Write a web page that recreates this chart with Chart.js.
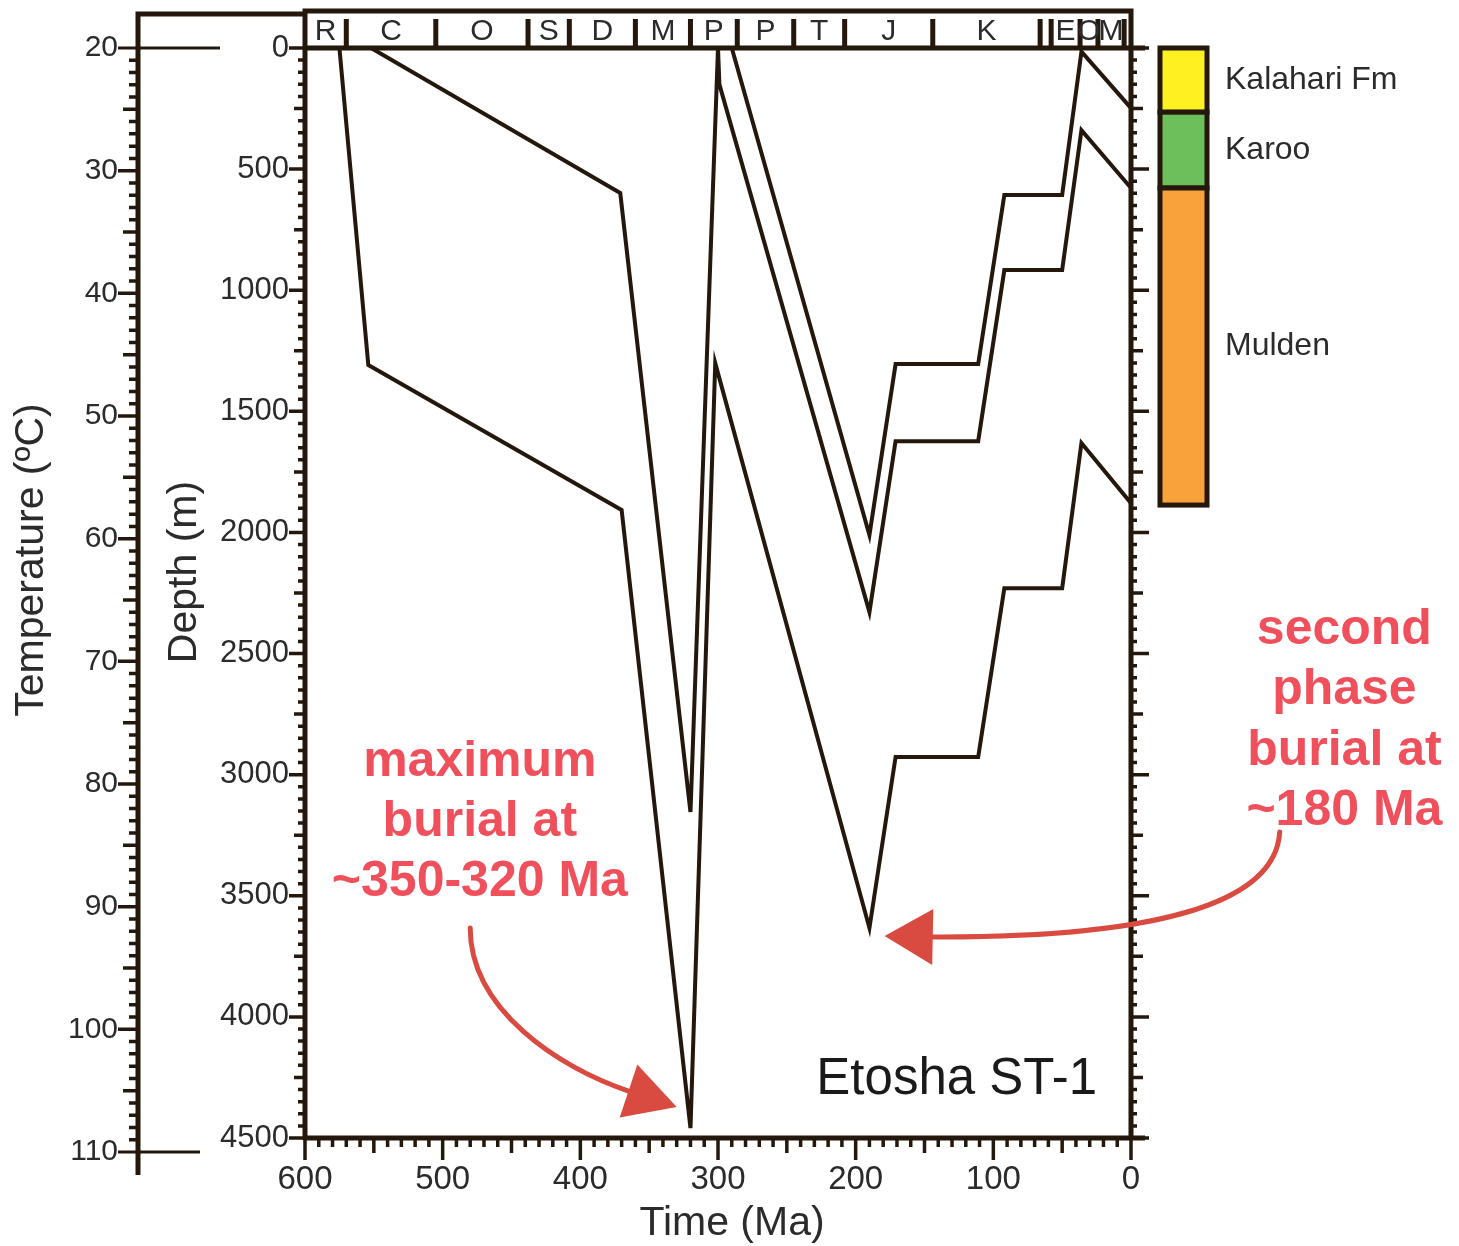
<!DOCTYPE html>
<html>
<head>
<meta charset="utf-8">
<title>Etosha ST-1 burial history</title>
<script src="https://cdn.jsdelivr.net/npm/chart.js@4.4.0/dist/chart.umd.min.js"></script>
<style>
  html, body { margin: 0; padding: 0; background: #fff; }
  #wrap { width: 1459px; height: 1246px; }
</style>
</head>
<body>
<div id="wrap"><canvas id="burialChart" width="1459" height="1246"></canvas></div>
<script>
// burial curves: age (Ma) and depth (m) of each horizon
var ageTop = [290, 190, 171, 111, 92, 50, 36, 0];
var depthTop = [0, 2011, 1305, 1305, 607, 607, 15, 248];

var ageMid = [552, 371, 320, 300, 299, 190, 171, 111, 92, 50, 36, 0];
var depthMid = [0, 599, 3154, 0, 150, 2329, 1623, 1623, 917, 917, 339, 578];

var ageBase = [575, 554, 370, 320, 302, 190, 171, 111, 92, 50, 36, 0];
var depthBase = [0, 1309, 1907, 4459, 1301, 3633, 2927, 2927, 2230, 2230, 1631, 1879];

// time scale strip along the top
var periodBounds = [600, 570, 505, 438, 408, 360, 320, 286, 245, 208, 144, 66, 58, 37, 24, 5, 0];
var periodLabels = ['R', 'C', 'O', 'S', 'D', 'M', 'P', 'P', 'T', 'J', 'K', '', 'E', 'O', 'M', ''];

// stratigraphic column on the right (present-day depths)
var unitNames = ['Kalahari Fm', 'Karoo', 'Mulden'];
var unitTop = [0, 265, 578];
var unitBase = [265, 578, 1887];
var unitColors = ['#fff022', '#6cbf5b', '#f9a23b'];

// axis ticks
var timeTicks = [600, 500, 400, 300, 200, 100, 0];
var depthTicks = [0, 500, 1000, 1500, 2000, 2500, 3000, 3500, 4000, 4500];
var tempTicks = [20, 30, 40, 50, 60, 70, 80, 90, 100, 110];

// annotations, anchored in (Ma, m)
var noteMaxLines = ['maximum', 'burial at', '~350-320 Ma'];
var noteMaxPos = [473, 2948];
var noteSecondLines = ['second', 'phase', 'burial at', '~180 Ma'];
var noteSecondPos = [-155, 2403];
var arrowMax = [[480, 3633], [480, 3972], [415, 4211], [365, 4306], [330, 4372]];
var arrowSecond = [[-108, 3237], [-105, 3538], [-14, 3674], [144, 3670], [179, 3666]];
var wellName = 'Etosha ST-1';
var wellPos = [24.7, 4261];

var AXIS = '#24170b';
var INK = '#2b2b2b';
var RED_TEXT = '#f0505c';
var RED_ARROW = '#d94a40';
var FONT = "'Liberation Sans', Arial, sans-serif";
var TEMP_OVERHANG = 14; // 110 ºC sits a little below the 4500 m line

function toPoints(ages, depths) {
    return ages.map(function(a, i) { return { x: a, y: depths[i] }; });
}

function curve(ages, depths) {
    return {
        data: toPoints(ages, depths),
        borderColor: AXIS,
        borderWidth: 4,
        pointRadius: 0,
        tension: 0,
        fill: false
    };
}

function drawArrow(ctx, xs, ys, pts, color) {
    var p = pts.map(function(q) { return { x: xs.getPixelForValue(q[0]), y: ys.getPixelForValue(q[1]) }; });
    ctx.strokeStyle = color;
    ctx.fillStyle = color;
    ctx.lineWidth = 5;
    ctx.lineCap = 'round';
    ctx.beginPath();
    ctx.moveTo(p[0].x, p[0].y);
    ctx.bezierCurveTo(p[1].x, p[1].y, p[2].x, p[2].y, p[3].x, p[3].y);
    ctx.stroke();
    // arrow head
    var dx = p[4].x - p[3].x, dy = p[4].y - p[3].y;
    var len = Math.sqrt(dx * dx + dy * dy);
    var nx = -dy / len, ny = dx / len, hw = 28;
    ctx.beginPath();
    ctx.moveTo(p[4].x, p[4].y);
    ctx.lineTo(p[3].x + nx * hw, p[3].y + ny * hw);
    ctx.lineTo(p[3].x - nx * hw, p[3].y - ny * hw);
    ctx.closePath();
    ctx.fill();
}

var framePlugin = {
    id: 'burialFrame',
    afterLayout: function(chart) {
        // stretch the temperature axis past the bottom of the plot frame
        var t = chart.scales.temp;
        t.bottom = t.bottom + TEMP_OVERHANG;
        t.configure();
    },
    afterDraw: function(chart) {
        var ctx = chart.ctx;
        var a = chart.chartArea;
        var xs = chart.scales.x, ys = chart.scales.y, ts = chart.scales.temp;
        var L = a.left, R = a.right, T = a.top, B = a.bottom;
        var stripTop = T - 37;
        var tx = ts.right;
        var i, v, x, y, len;

        ctx.save();
        ctx.strokeStyle = AXIS;
        ctx.lineCap = 'butt';

        // frame and axis lines
        ctx.lineWidth = 5;
        ctx.beginPath();
        ctx.moveTo(L, B + 2); ctx.lineTo(L, stripTop); ctx.lineTo(R, stripTop); ctx.lineTo(R, B);
        ctx.moveTo(L - 2, B); ctx.lineTo(R + 14, B);
        ctx.moveTo(L, T); ctx.lineTo(R + 14, T);
        // temperature axis with its bracket to the frame
        var t110 = ts.getPixelForValue(110);
        ctx.moveTo(L, stripTop + 3); ctx.lineTo(tx, stripTop + 3); ctx.lineTo(tx, t110 + 23);
        ctx.stroke();

        ctx.lineWidth = 3;
        ctx.beginPath();
        var t20 = ts.getPixelForValue(20);
        ctx.moveTo(tx - 20, t20); ctx.lineTo(tx + 82, t20);
        ctx.moveTo(tx - 20, t110); ctx.lineTo(tx + 62, t110);
        ctx.stroke();

        // tick marks
        ctx.lineWidth = 3.5;
        ctx.beginPath();
        for (v = 0; v <= 4500; v += 50) {
            y = ys.getPixelForValue(v);
            len = v % 500 === 0 ? 16 : (v % 250 === 0 ? 11 : 7);
            ctx.moveTo(L, y); ctx.lineTo(L - len, y);
            len = v % 500 === 0 ? 18 : (v % 250 === 0 ? 12 : 6);
            ctx.moveTo(R, y); ctx.lineTo(R + len, y);
        }
        for (v = 0; v <= 600; v += 10) {
            x = xs.getPixelForValue(v);
            len = v % 100 === 0 ? 22 : (v % 50 === 0 ? 15 : 9);
            ctx.moveTo(x, B); ctx.lineTo(x, B + len);
        }
        for (v = 21; v < 110; v += 1) {
            y = ts.getPixelForValue(v);
            len = v % 10 === 0 ? 20 : (v % 5 === 0 ? 15 : 9);
            ctx.moveTo(tx, y); ctx.lineTo(tx - len, y);
        }
        ctx.stroke();

        // time scale strip
        ctx.lineWidth = 5;
        ctx.beginPath();
        for (i = 1; i < periodBounds.length - 1; i++) {
            x = xs.getPixelForValue(periodBounds[i]);
            ctx.moveTo(x, T); ctx.lineTo(x, T - 29);
        }
        ctx.stroke();
        ctx.fillStyle = INK;
        ctx.font = '30px ' + FONT;
        ctx.textAlign = 'center';
        ctx.textBaseline = 'middle';
        for (i = 0; i < periodLabels.length; i++) {
            if (!periodLabels[i]) continue;
            x = (xs.getPixelForValue(periodBounds[i]) + xs.getPixelForValue(periodBounds[i + 1])) / 2;
            ctx.fillText(periodLabels[i], x, (stripTop + T) / 2 + 2);
        }

        // stratigraphic column
        var colX = R + 29, colW = 47;
        ctx.lineWidth = 5;
        ctx.textAlign = 'left';
        ctx.font = '32px ' + FONT;
        for (i = 0; i < unitNames.length; i++) {
            var y0 = ys.getPixelForValue(unitTop[i]);
            var y1 = ys.getPixelForValue(unitBase[i]);
            ctx.fillStyle = unitColors[i];
            ctx.fillRect(colX, y0, colW, y1 - y0);
            ctx.strokeRect(colX, y0, colW, y1 - y0);
            ctx.fillStyle = INK;
            ctx.fillText(unitNames[i], colX + colW + 18, (y0 + y1) / 2);
        }

        // axis titles
        ctx.fillStyle = INK;
        ctx.font = '41px ' + FONT;
        ctx.textAlign = 'center';
        ctx.fillText('Time (Ma)', (L + R) / 2 + 14, B + 86);
        ctx.save();
        ctx.translate(ts.left + 32, 560);
        ctx.rotate(-Math.PI / 2);
        ctx.fillText('Temperature (ºC)', 0, 0);
        ctx.restore();
        ctx.save();
        ctx.translate(ts.right + 47, 572);
        ctx.rotate(-Math.PI / 2);
        ctx.fillText('Depth (m)', 0, 0);
        ctx.restore();

        // well name
        ctx.fillStyle = '#1a1a1a';
        ctx.font = '51px ' + FONT;
        ctx.textAlign = 'right';
        ctx.fillText(wellName, xs.getPixelForValue(wellPos[0]), ys.getPixelForValue(wellPos[1]));

        // annotations
        ctx.fillStyle = RED_TEXT;
        ctx.font = 'bold 50px ' + FONT;
        ctx.textAlign = 'center';
        x = xs.getPixelForValue(noteMaxPos[0]);
        y = ys.getPixelForValue(noteMaxPos[1]);
        noteMaxLines.forEach(function(s, k) { ctx.fillText(s, x, y + k * 60); });
        x = xs.getPixelForValue(noteSecondPos[0]);
        y = ys.getPixelForValue(noteSecondPos[1]);
        noteSecondLines.forEach(function(s, k) { ctx.fillText(s, x, y + k * 60.5); });

        drawArrow(ctx, xs, ys, arrowMax, RED_ARROW);
        drawArrow(ctx, xs, ys, arrowSecond, RED_ARROW);
        ctx.restore();
    }
};

new Chart(document.getElementById('burialChart'), {
    type: 'line',
    data: {
        datasets: [
            curve(ageTop, depthTop),
            curve(ageMid, depthMid),
            curve(ageBase, depthBase)
        ]
    },
    options: {
        responsive: false,
        animation: false,
        devicePixelRatio: 1,
        layout: { padding: { top: 48, right: 328, bottom: 0, left: 0 } },
        plugins: {
            legend: { display: false },
            tooltip: { enabled: false }
        },
        scales: {
            x: {
                type: 'linear',
                position: 'bottom',
                min: 0,
                max: 600,
                reverse: true,
                grid: { display: false, drawTicks: false },
                border: { display: false },
                afterBuildTicks: function(s) { s.ticks = timeTicks.map(function(v) { return { value: v }; }); },
                afterFit: function(s) { s.height = 108; },
                ticks: {
                    font: { family: FONT, size: 33 },
                    color: INK,
                    padding: 22,
                    maxRotation: 0,
                    autoSkip: false,
                    callback: function(v) { return String(v); }
                }
            },
            y: {
                type: 'linear',
                position: 'left',
                weight: 0,
                min: 0,
                max: 4500,
                reverse: true,
                grid: { display: false, drawTicks: false },
                border: { display: false },
                afterBuildTicks: function(s) { s.ticks = depthTicks.map(function(v) { return { value: v }; }); },
                afterFit: function(s) { s.width = 167; },
                ticks: {
                    font: { family: FONT, size: 31 },
                    color: INK,
                    padding: 16,
                    autoSkip: false,
                    callback: function(v) { return String(v); }
                }
            },
            temp: {
                type: 'linear',
                position: 'left',
                weight: 10,
                min: 20,
                max: 110,
                reverse: true,
                grid: { display: false, drawTicks: false },
                border: { display: false },
                afterBuildTicks: function(s) { s.ticks = tempTicks.map(function(v) { return { value: v }; }); },
                afterFit: function(s) { s.width = 138; },
                ticks: {
                    font: { family: FONT, size: 30 },
                    color: INK,
                    padding: 20,
                    autoSkip: false,
                    callback: function(v) { return String(v); }
                }
            }
        }
    },
    plugins: [framePlugin]
});
</script>
</body>
</html>
